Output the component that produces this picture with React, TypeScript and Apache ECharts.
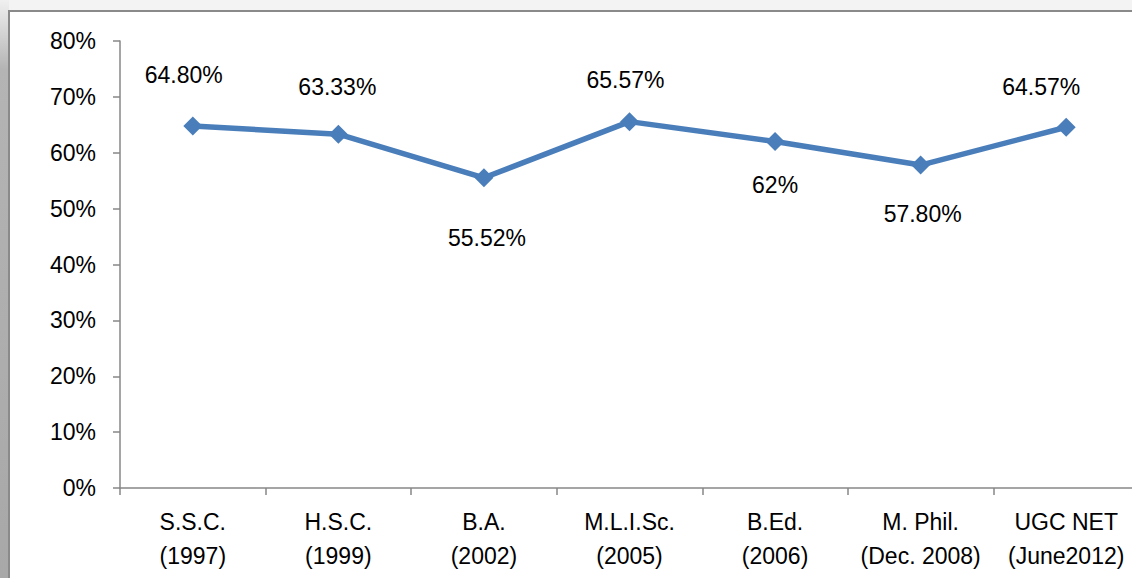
import React, { useEffect, useRef } from "react";
import * as echarts from "echarts";

const categories = [
  "S.S.C.\n(1997)",
  "H.S.C.\n(1999)",
  "B.A.\n(2002)",
  "M.L.I.Sc.\n(2005)",
  "B.Ed.\n(2006)",
  "M. Phil.\n(Dec. 2008)",
  "UGC NET\n(June2012)",
];
const values = [64.8, 63.33, 55.52, 65.57, 62, 57.8, 64.57];
const labelTexts = ["64.80%", "63.33%", "55.52%", "65.57%", "62%", "57.80%", "64.57%"];
const yTicks = { min: 0, max: 80, interval: 10 };

// manual label placement (as in the source chart), [dx, dy] from the point
const labelOffsets: [number, number][] = [
  [-9, -51],
  [-1, -47],
  [3, 60],
  [-4, -42],
  [0, 43],
  [2, 49],
  [-25, -40],
];

const FONT = "Liberation Sans";

export default function App() {
  const ref = useRef<HTMLDivElement>(null);
  useEffect(() => {
    if (!ref.current) return;
    const chart = echarts.init(ref.current, undefined, { renderer: "svg" });
    chart.setOption({
      animation: false,
      backgroundColor: "#f3f3f3",
      graphic: [
        {
          type: "rect",
          z: -10,
          silent: true,
          shape: { x: 0, y: 0, width: 9, height: 578 },
          style: {
            fill: new echarts.graphic.LinearGradient(0, 0, 0, 1, [
              { offset: 0, color: "#f0f0f0" },
              { offset: 0.12, color: "#b4b4b4" },
              { offset: 1, color: "#a8a8a8" },
            ]),
          },
        },
        {
          type: "rect",
          z: -9,
          silent: true,
          shape: { x: 9, y: 11, width: 1160, height: 600 },
          style: { fill: "#ffffff", stroke: "#8a8a8a", lineWidth: 2 },
        },
      ],
      grid: { left: 120, right: 0, top: 41, bottom: 90, containLabel: false },
      xAxis: {
        type: "category",
        data: categories,
        boundaryGap: true,
        axisLine: { lineStyle: { color: "#878787", width: 1.5 } },
        axisTick: { show: true, length: 7, lineStyle: { color: "#878787", width: 1.5 } },
        axisLabel: {
          color: "#000",
          fontFamily: FONT,
          fontSize: 23,
          lineHeight: 34,
          margin: 17,
          interval: 0,
        },
        splitLine: { show: false },
      },
      yAxis: {
        type: "value",
        min: yTicks.min,
        max: yTicks.max,
        interval: yTicks.interval,
        axisLine: { show: true, lineStyle: { color: "#878787", width: 1.5 } },
        axisTick: { show: true, length: 7, lineStyle: { color: "#878787", width: 1.5 } },
        axisLabel: {
          color: "#000",
          fontFamily: FONT,
          fontSize: 23,
          margin: 24,
          formatter: "{value}%",
        },
        splitLine: { show: false },
      },
      series: [
        {
          type: "line",
          data: values.map((v, i) => ({
            value: v,
            label: {
              show: true,
              position: "inside",
              offset: labelOffsets[i],
              formatter: labelTexts[i],
            },
          })),
          symbol: "diamond",
          symbolSize: 19,
          lineStyle: { color: "#4a7ebb", width: 5.5 },
          itemStyle: { color: "#4a7ebb" },
          label: {
            show: true,
            color: "#000",
            fontFamily: FONT,
            fontSize: 23,
          },
          z: 5,
        },
      ],
    });
    return () => chart.dispose();
  }, []);
  return (
    <div
      style={{
        position: "fixed",
        left: 0,
        top: 0,
        width: 1132,
        height: 578,
        overflow: "hidden",
      }}
    >
      <div ref={ref} style={{ width: 1139, height: 578 }} />
    </div>
  );
}
